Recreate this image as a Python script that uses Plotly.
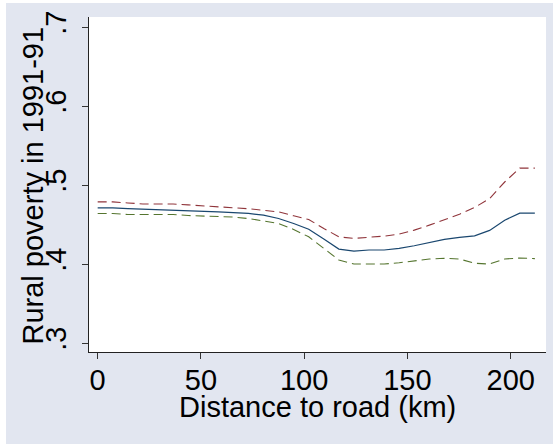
import plotly.graph_objects as go

# Data
distance_km = [0, 7.3, 14.6, 21.9, 29.2, 36.5, 43.8, 51.1, 58.4, 65.7,
               73.0, 80.3, 87.6, 94.9, 102.2, 109.5, 116.8, 124.1, 131.4, 138.7,
               146.0, 153.3, 160.6, 167.9, 175.2, 182.5, 189.8, 197.1, 204.4, 211.7]
poverty_fit = [0.471, 0.471, 0.470, 0.4694, 0.4685, 0.4685, 0.467, 0.467, 0.466, 0.465,
               0.464, 0.4618, 0.4576, 0.4513, 0.4441, 0.4315, 0.4189, 0.4164, 0.4177, 0.4177,
               0.4198, 0.4231, 0.4269, 0.4311, 0.4337, 0.4357, 0.4425, 0.4555, 0.4643, 0.4643]
poverty_upper = [0.4786, 0.4786, 0.4773, 0.476, 0.476, 0.476, 0.4748, 0.4735, 0.473, 0.4715,
                 0.470, 0.468, 0.466, 0.461, 0.4563, 0.445, 0.4344, 0.4324, 0.4337, 0.4353,
                 0.4378, 0.4429, 0.4492, 0.4563, 0.463, 0.4715, 0.4828, 0.5038, 0.5214, 0.5214]
poverty_lower = [0.464, 0.464, 0.4627, 0.4627, 0.4627, 0.4627, 0.4614, 0.461, 0.4597, 0.4594,
                 0.4576, 0.4546, 0.4513, 0.4437, 0.4344, 0.4198, 0.405, 0.400, 0.400, 0.400,
                 0.4016, 0.4038, 0.4063, 0.4072, 0.4063, 0.4009, 0.400, 0.4063, 0.4076, 0.4068]

x_ticks = [0, 50, 100, 150, 200]
y_ticks = [0.3, 0.4, 0.5, 0.6, 0.7]
y_tick_labels = [".3", ".4", ".5", ".6", ".7"]
y_grid = [0.4, 0.5, 0.6]
x_title = "Distance to road (km)"
y_title = "Rural poverty in 1991-91"

FONT = "Liberation Sans, Arial, sans-serif"
BG = "#E2E6F0"
FS = 29
PW, PH = 457, 335  # plot area size in px

fig = go.Figure()
fig.add_trace(go.Scatter(x=distance_km, y=poverty_upper, mode="lines",
                         line=dict(color="#90353B", width=1.1, dash="9px,5px"),
                         showlegend=False))
fig.add_trace(go.Scatter(x=distance_km, y=poverty_lower, mode="lines",
                         line=dict(color="#55752F", width=1.1, dash="9px,5px"),
                         showlegend=False))
fig.add_trace(go.Scatter(x=distance_km, y=poverty_fit, mode="lines",
                         line=dict(color="#1A476F", width=1.2),
                         showlegend=False))

fig.update_layout(
    width=553, height=444,
    margin=dict(l=89, r=7, t=17, b=92),
    paper_bgcolor=BG, plot_bgcolor="white",
    font=dict(family=FONT, color="black", size=FS),
    xaxis=dict(range=[-4.2, 217.1], tickvals=x_ticks, ticks="outside", ticklen=6,
               tickcolor="#333333", showline=True, linecolor="#222222", linewidth=1.2,
               showgrid=False, zeroline=False, automargin=False,
               ticklabelstandoff=-4, tickfont=dict(size=FS)),
    yaxis=dict(range=[0.2886, 0.7127], tickvals=y_ticks, ticktext=y_tick_labels,
               tickangle=-90, ticks="outside", ticklen=6, tickcolor="#333333",
               showline=True, linecolor="#222222", linewidth=1.2, automargin=False,
               ticklabelstandoff=4,
               showgrid=False, zeroline=False, tickfont=dict(size=FS)),
    yaxis2=dict(range=[0.2886, 0.7127], overlaying="y", tickvals=y_grid,
                showticklabels=False, ticks="", showgrid=True, gridcolor="#E6E9F2",
                gridwidth=1, zeroline=False, showline=False, automargin=False),
)
fig.add_annotation(text=x_title, xref="paper", yref="paper", x=0.5,
                   y=(352 - 389) / PH, xanchor="center", yanchor="top",
                   showarrow=False, font=dict(size=FS))
fig.add_annotation(text=y_title, xref="paper", yref="paper", x=(33 - 89) / PW,
                   y=0.497, xanchor="center", yanchor="middle", textangle=-90,
                   showarrow=False, font=dict(size=FS))
# white page margin around the graph region (left and top strips)
fig.add_shape(type="rect", xref="paper", yref="paper", x0=-0.3, x1=-83 / PW,
              y0=-0.5, y1=1.2, fillcolor="white", line_width=0, layer="below")
fig.add_shape(type="rect", xref="paper", yref="paper", x0=-0.3, x1=1.1,
              y0=1 + 14 / PH, y1=1.2, fillcolor="white", line_width=0, layer="below")

fig.write_html("out.html", config={"displayModeBar": False},
               post_script="document.body.style.margin='0px';")
